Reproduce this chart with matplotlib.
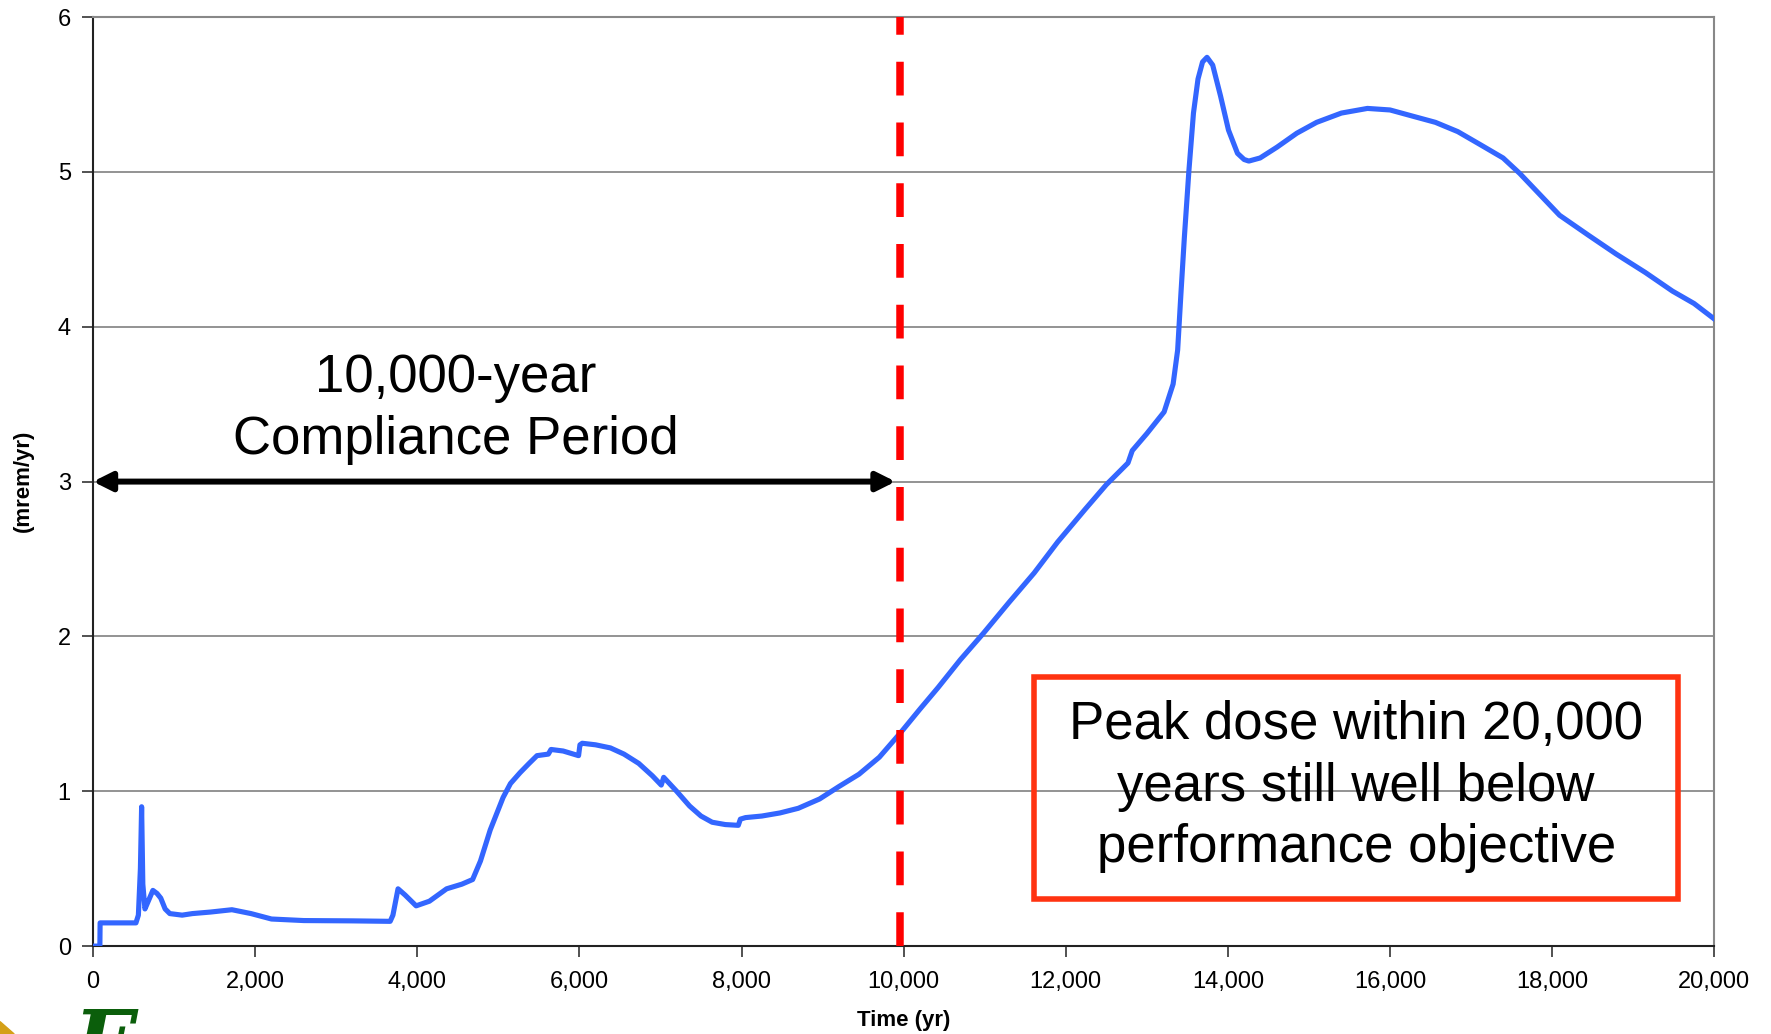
import matplotlib
matplotlib.use("Agg")
import matplotlib.pyplot as plt
from matplotlib.patches import Rectangle, Polygon
from matplotlib.ticker import FuncFormatter

plt.rcParams['font.family'] = ['Liberation Sans', 'DejaVu Sans']

# dose curve (years, mrem/yr)
years = [0, 85, 88, 300, 530, 560, 585, 600, 615, 641, 690, 739, 790, 836, 890, 948,
         1100, 1226, 1450, 1714, 1950, 2202, 2600, 3200, 3666, 3700, 3763, 3850, 3986,
         4150, 4362, 4550, 4683, 4780, 4900, 5059, 5150, 5268, 5380, 5477, 5617, 5650,
         5800, 5990, 6007, 6035, 6200, 6383, 6550, 6732, 6900, 7010, 7040, 7200, 7359,
         7500, 7638, 7800, 7960, 7986, 8050, 8250, 8474, 8700, 8962, 9200, 9449, 9700,
         9965, 10200, 10425, 10700, 10983, 11300, 11610, 11900, 12237, 12500, 12767,
         12820, 13000, 13213, 13324, 13380, 13421, 13463, 13519, 13575, 13631, 13687,
         13742, 13812, 13909, 14007, 14118, 14200, 14258, 14397, 14606, 14850, 15094,
         15400, 15721, 16000, 16279, 16560, 16836, 17100, 17394, 17600, 17800, 18091,
         18450, 18788, 19150, 19484, 19750, 20000]
dose = [0, 0, 0.15, 0.15, 0.15, 0.2, 0.5, 0.90, 0.4, 0.24, 0.30, 0.36, 0.34, 0.31, 0.24, 0.21,
        0.2, 0.21, 0.22, 0.235, 0.21, 0.175, 0.165, 0.163, 0.16, 0.2, 0.37, 0.33, 0.26,
        0.29, 0.37, 0.40, 0.43, 0.55, 0.75, 0.96, 1.05, 1.12, 1.18, 1.23, 1.24, 1.27,
        1.26, 1.23, 1.30, 1.31, 1.30, 1.28, 1.24, 1.18, 1.10, 1.04, 1.09, 1.0, 0.905,
        0.84, 0.80, 0.785, 0.78, 0.82, 0.83, 0.84, 0.86, 0.89, 0.95, 1.03, 1.11, 1.22,
        1.38, 1.53, 1.67, 1.85, 2.02, 2.22, 2.41, 2.61, 2.82, 2.98, 3.12,
        3.2, 3.31, 3.45, 3.63, 3.85, 4.22, 4.58, 5.01, 5.38, 5.60, 5.71,
        5.74, 5.69, 5.49, 5.27, 5.12, 5.08, 5.07, 5.09, 5.16, 5.25, 5.32,
        5.38, 5.41, 5.40, 5.36, 5.32, 5.26, 5.18, 5.09, 4.99, 4.88, 4.72,
        4.59, 4.47, 4.35, 4.23, 4.15, 4.05]

x_ticks = [0, 2000, 4000, 6000, 8000, 10000, 12000, 14000, 16000, 18000, 20000]
y_ticks = [0, 1, 2, 3, 4, 5, 6]
compliance_end = 9950

fig = plt.figure(figsize=(17.71, 10.34), dpi=100)
ax = fig.add_axes([0.0525, 0.085, 0.9155, 0.8985])

ax.plot(years, dose, color='#3366FF', lw=3.7, solid_joinstyle='round', zorder=3)
ax.axvline(compliance_end, color='#FF0000', lw=5.4, dashes=(4.5, 3.6), zorder=4)

ax.annotate('', xy=(0, 3), xytext=(9900, 3),
            arrowprops=dict(arrowstyle='<|-|>', color='black', lw=4.3,
                            mutation_scale=28, shrinkA=0, shrinkB=0), zorder=5)
ax.text(4480, 3.47, '10,000-year\nCompliance Period', ha='center', va='center',
        fontsize=38, linespacing=1.3)

ax.add_patch(Rectangle((11610, 0.305), 7945, 1.43, fill=False, edgecolor='#FF3311',
                       lw=4, zorder=5))
ax.text(15582, 1.03, 'Peak dose within 20,000\nyears still well below\nperformance objective',
        ha='center', va='center', fontsize=38, linespacing=1.3, zorder=6)

ax.set_xlim(0, 20000)
ax.set_ylim(0, 6)
ax.set_xticks(x_ticks)
ax.set_yticks(y_ticks)
ax.xaxis.set_major_formatter(FuncFormatter(lambda v, p: f'{int(v):,}'))
ax.tick_params(axis='both', labelsize=17, direction='out', length=8, width=1.2,
               color='#333333', pad=8)
ax.tick_params(axis='x', pad=10)
ax.grid(axis='y', color='#808080', lw=1.2)
ax.set_axisbelow(True)
for s in ['left', 'bottom']:
    ax.spines[s].set_color('#222222')
    ax.spines[s].set_linewidth(1.5)
for s in ['right', 'top']:
    ax.spines[s].set_color('#888888')
    ax.spines[s].set_linewidth(1.5)

ax.set_xlabel('Time (yr)', fontsize=16, fontweight='bold', labelpad=12)
fig.text(0.013, 0.535, '(mrem/yr)', rotation=90, fontsize=16, fontweight='bold',
         ha='center', va='center')

# logo bits at lower left corner
fig.patches.append(Polygon([[0, 0], [0.008, 0], [0, 0.012]], closed=True,
                           transform=fig.transFigure, color='#D4A017'))
fig.text(0.042, -0.05, 'E', fontsize=60, fontweight='bold', style='italic',
         family='DejaVu Serif', color='#0B5E0B', ha='left', va='bottom')

fig.savefig('out.png', dpi=100)
